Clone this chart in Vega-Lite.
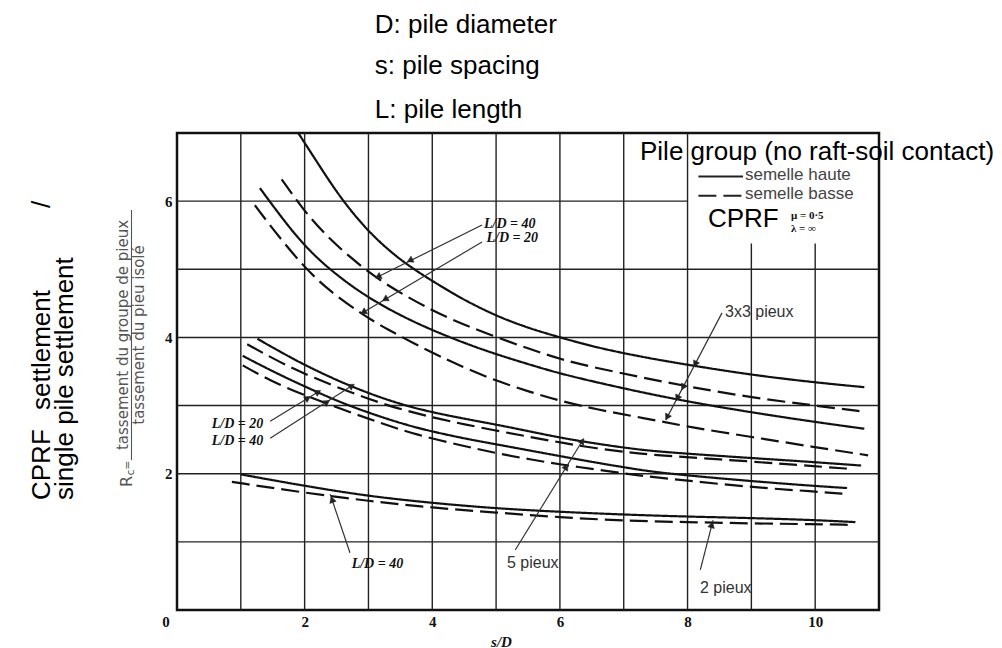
{
  "$schema": "https://vega.github.io/schema/vega-lite/v6.json",
  "width": 702,
  "height": 477,
  "autosize": "none",
  "padding": {"left": 177, "top": 133, "right": 123, "bottom": 38},
  "background": "white",
  "config": {
    "view": {"stroke": "#111", "strokeWidth": 2.5},
    "axis": {"grid": false, "ticks": false, "domain": false, "labelFont": "Liberation Serif", "labelFontWeight": "bold", "labelFontSize": 15, "labelColor": "#111"}
  },
  "datasets": {
    "grid": [
      {"x": 1, "x2": 1, "y": 0, "y2": 7}, {"x": 2, "x2": 2, "y": 0, "y2": 7}, {"x": 3, "x2": 3, "y": 0, "y2": 7},
      {"x": 4, "x2": 4, "y": 0, "y2": 7}, {"x": 5, "x2": 5, "y": 0, "y2": 7}, {"x": 6, "x2": 6, "y": 0, "y2": 7},
      {"x": 7, "x2": 7, "y": 0, "y2": 7}, {"x": 8, "x2": 8, "y": 0, "y2": 7},
      {"x": 9, "x2": 9, "y": 0, "y2": 5.38}, {"x": 10, "x2": 10, "y": 0, "y2": 5.38},
      {"x": 0, "x2": 11, "y": 1, "y2": 1}, {"x": 0, "x2": 11, "y": 2, "y2": 2}, {"x": 0, "x2": 11, "y": 3, "y2": 3},
      {"x": 0, "x2": 11, "y": 4, "y2": 4}, {"x": 0, "x2": 11, "y": 5, "y2": 5}, {"x": 0, "x2": 8, "y": 6, "y2": 6}
    ],
    "curves": [
      {"curve": "3x3 L/D=40 haute", "cap": "semelle haute", "x": 1.9, "y": 7.0},
      {"curve": "3x3 L/D=40 haute", "cap": "semelle haute", "x": 2.19, "y": 6.58},
      {"curve": "3x3 L/D=40 haute", "cap": "semelle haute", "x": 2.55, "y": 6.06},
      {"curve": "3x3 L/D=40 haute", "cap": "semelle haute", "x": 2.97, "y": 5.58},
      {"curve": "3x3 L/D=40 haute", "cap": "semelle haute", "x": 3.34, "y": 5.26},
      {"curve": "3x3 L/D=40 haute", "cap": "semelle haute", "x": 3.62, "y": 5.06},
      {"curve": "3x3 L/D=40 haute", "cap": "semelle haute", "x": 3.91, "y": 4.88},
      {"curve": "3x3 L/D=40 haute", "cap": "semelle haute", "x": 4.23, "y": 4.7},
      {"curve": "3x3 L/D=40 haute", "cap": "semelle haute", "x": 4.48, "y": 4.56},
      {"curve": "3x3 L/D=40 haute", "cap": "semelle haute", "x": 5.01, "y": 4.31},
      {"curve": "3x3 L/D=40 haute", "cap": "semelle haute", "x": 5.53, "y": 4.13},
      {"curve": "3x3 L/D=40 haute", "cap": "semelle haute", "x": 6.0, "y": 4.0},
      {"curve": "3x3 L/D=40 haute", "cap": "semelle haute", "x": 6.58, "y": 3.85},
      {"curve": "3x3 L/D=40 haute", "cap": "semelle haute", "x": 7.3, "y": 3.71},
      {"curve": "3x3 L/D=40 haute", "cap": "semelle haute", "x": 8.05, "y": 3.59},
      {"curve": "3x3 L/D=40 haute", "cap": "semelle haute", "x": 9.0, "y": 3.45},
      {"curve": "3x3 L/D=40 haute", "cap": "semelle haute", "x": 9.99, "y": 3.34},
      {"curve": "3x3 L/D=40 haute", "cap": "semelle haute", "x": 10.77, "y": 3.27},

      {"curve": "3x3 L/D=40 basse", "cap": "semelle basse", "x": 1.64, "y": 6.32},
      {"curve": "3x3 L/D=40 basse", "cap": "semelle basse", "x": 1.98, "y": 5.87},
      {"curve": "3x3 L/D=40 basse", "cap": "semelle basse", "x": 2.35, "y": 5.48},
      {"curve": "3x3 L/D=40 basse", "cap": "semelle basse", "x": 2.71, "y": 5.18},
      {"curve": "3x3 L/D=40 basse", "cap": "semelle basse", "x": 3.18, "y": 4.82},
      {"curve": "3x3 L/D=40 basse", "cap": "semelle basse", "x": 4.02, "y": 4.38},
      {"curve": "3x3 L/D=40 basse", "cap": "semelle basse", "x": 4.49, "y": 4.19},
      {"curve": "3x3 L/D=40 basse", "cap": "semelle basse", "x": 5.01, "y": 4.0},
      {"curve": "3x3 L/D=40 basse", "cap": "semelle basse", "x": 5.53, "y": 3.83},
      {"curve": "3x3 L/D=40 basse", "cap": "semelle basse", "x": 6.0, "y": 3.68},
      {"curve": "3x3 L/D=40 basse", "cap": "semelle basse", "x": 6.58, "y": 3.55},
      {"curve": "3x3 L/D=40 basse", "cap": "semelle basse", "x": 7.3, "y": 3.41},
      {"curve": "3x3 L/D=40 basse", "cap": "semelle basse", "x": 8.05, "y": 3.27},
      {"curve": "3x3 L/D=40 basse", "cap": "semelle basse", "x": 9.0, "y": 3.12},
      {"curve": "3x3 L/D=40 basse", "cap": "semelle basse", "x": 9.99, "y": 3.0},
      {"curve": "3x3 L/D=40 basse", "cap": "semelle basse", "x": 10.77, "y": 2.91},

      {"curve": "3x3 L/D=20 haute", "cap": "semelle haute", "x": 1.3, "y": 6.19},
      {"curve": "3x3 L/D=20 haute", "cap": "semelle haute", "x": 1.67, "y": 5.72},
      {"curve": "3x3 L/D=20 haute", "cap": "semelle haute", "x": 2.01, "y": 5.33},
      {"curve": "3x3 L/D=20 haute", "cap": "semelle haute", "x": 2.4, "y": 4.99},
      {"curve": "3x3 L/D=20 haute", "cap": "semelle haute", "x": 2.87, "y": 4.66},
      {"curve": "3x3 L/D=20 haute", "cap": "semelle haute", "x": 3.34, "y": 4.4},
      {"curve": "3x3 L/D=20 haute", "cap": "semelle haute", "x": 3.86, "y": 4.16},
      {"curve": "3x3 L/D=20 haute", "cap": "semelle haute", "x": 4.49, "y": 3.92},
      {"curve": "3x3 L/D=20 haute", "cap": "semelle haute", "x": 5.01, "y": 3.75},
      {"curve": "3x3 L/D=20 haute", "cap": "semelle haute", "x": 5.53, "y": 3.6},
      {"curve": "3x3 L/D=20 haute", "cap": "semelle haute", "x": 6.0, "y": 3.47},
      {"curve": "3x3 L/D=20 haute", "cap": "semelle haute", "x": 6.58, "y": 3.34},
      {"curve": "3x3 L/D=20 haute", "cap": "semelle haute", "x": 7.3, "y": 3.19},
      {"curve": "3x3 L/D=20 haute", "cap": "semelle haute", "x": 8.05, "y": 3.05},
      {"curve": "3x3 L/D=20 haute", "cap": "semelle haute", "x": 9.0, "y": 2.9},
      {"curve": "3x3 L/D=20 haute", "cap": "semelle haute", "x": 9.99, "y": 2.76},
      {"curve": "3x3 L/D=20 haute", "cap": "semelle haute", "x": 10.77, "y": 2.66},

      {"curve": "3x3 L/D=20 basse", "cap": "semelle basse", "x": 1.22, "y": 5.94},
      {"curve": "3x3 L/D=20 basse", "cap": "semelle basse", "x": 1.51, "y": 5.58},
      {"curve": "3x3 L/D=20 basse", "cap": "semelle basse", "x": 1.98, "y": 5.04},
      {"curve": "3x3 L/D=20 basse", "cap": "semelle basse", "x": 2.4, "y": 4.67},
      {"curve": "3x3 L/D=20 basse", "cap": "semelle basse", "x": 2.92, "y": 4.33},
      {"curve": "3x3 L/D=20 basse", "cap": "semelle basse", "x": 3.23, "y": 4.15},
      {"curve": "3x3 L/D=20 basse", "cap": "semelle basse", "x": 3.96, "y": 3.79},
      {"curve": "3x3 L/D=20 basse", "cap": "semelle basse", "x": 4.49, "y": 3.56},
      {"curve": "3x3 L/D=20 basse", "cap": "semelle basse", "x": 5.01, "y": 3.36},
      {"curve": "3x3 L/D=20 basse", "cap": "semelle basse", "x": 5.53, "y": 3.2},
      {"curve": "3x3 L/D=20 basse", "cap": "semelle basse", "x": 6.0, "y": 3.07},
      {"curve": "3x3 L/D=20 basse", "cap": "semelle basse", "x": 6.58, "y": 2.94},
      {"curve": "3x3 L/D=20 basse", "cap": "semelle basse", "x": 7.3, "y": 2.82},
      {"curve": "3x3 L/D=20 basse", "cap": "semelle basse", "x": 8.05, "y": 2.68},
      {"curve": "3x3 L/D=20 basse", "cap": "semelle basse", "x": 9.0, "y": 2.54},
      {"curve": "3x3 L/D=20 basse", "cap": "semelle basse", "x": 9.99, "y": 2.39},
      {"curve": "3x3 L/D=20 basse", "cap": "semelle basse", "x": 10.83, "y": 2.27},

      {"curve": "5p L/D=40 haute", "cap": "semelle haute", "x": 1.26, "y": 3.98},
      {"curve": "5p L/D=40 haute", "cap": "semelle haute", "x": 1.86, "y": 3.66},
      {"curve": "5p L/D=40 haute", "cap": "semelle haute", "x": 2.39, "y": 3.42},
      {"curve": "5p L/D=40 haute", "cap": "semelle haute", "x": 2.81, "y": 3.25},
      {"curve": "5p L/D=40 haute", "cap": "semelle haute", "x": 3.33, "y": 3.07},
      {"curve": "5p L/D=40 haute", "cap": "semelle haute", "x": 3.85, "y": 2.93},
      {"curve": "5p L/D=40 haute", "cap": "semelle haute", "x": 4.48, "y": 2.81},
      {"curve": "5p L/D=40 haute", "cap": "semelle haute", "x": 5.01, "y": 2.72},
      {"curve": "5p L/D=40 haute", "cap": "semelle haute", "x": 5.53, "y": 2.62},
      {"curve": "5p L/D=40 haute", "cap": "semelle haute", "x": 6.05, "y": 2.52},
      {"curve": "5p L/D=40 haute", "cap": "semelle haute", "x": 6.58, "y": 2.44},
      {"curve": "5p L/D=40 haute", "cap": "semelle haute", "x": 7.1, "y": 2.37},
      {"curve": "5p L/D=40 haute", "cap": "semelle haute", "x": 7.57, "y": 2.32},
      {"curve": "5p L/D=40 haute", "cap": "semelle haute", "x": 9.0, "y": 2.23},
      {"curve": "5p L/D=40 haute", "cap": "semelle haute", "x": 9.99, "y": 2.17},
      {"curve": "5p L/D=40 haute", "cap": "semelle haute", "x": 10.72, "y": 2.12},

      {"curve": "5p L/D=40 basse", "cap": "semelle basse", "x": 1.1, "y": 3.9},
      {"curve": "5p L/D=40 basse", "cap": "semelle basse", "x": 1.6, "y": 3.64},
      {"curve": "5p L/D=40 basse", "cap": "semelle basse", "x": 2.13, "y": 3.41},
      {"curve": "5p L/D=40 basse", "cap": "semelle basse", "x": 2.81, "y": 3.16},
      {"curve": "5p L/D=40 basse", "cap": "semelle basse", "x": 3.43, "y": 2.96},
      {"curve": "5p L/D=40 basse", "cap": "semelle basse", "x": 4.12, "y": 2.8},
      {"curve": "5p L/D=40 basse", "cap": "semelle basse", "x": 4.48, "y": 2.73},
      {"curve": "5p L/D=40 basse", "cap": "semelle basse", "x": 5.01, "y": 2.63},
      {"curve": "5p L/D=40 basse", "cap": "semelle basse", "x": 5.53, "y": 2.54},
      {"curve": "5p L/D=40 basse", "cap": "semelle basse", "x": 6.05, "y": 2.45},
      {"curve": "5p L/D=40 basse", "cap": "semelle basse", "x": 6.58, "y": 2.37},
      {"curve": "5p L/D=40 basse", "cap": "semelle basse", "x": 7.1, "y": 2.31},
      {"curve": "5p L/D=40 basse", "cap": "semelle basse", "x": 7.52, "y": 2.27},
      {"curve": "5p L/D=40 basse", "cap": "semelle basse", "x": 9.0, "y": 2.18},
      {"curve": "5p L/D=40 basse", "cap": "semelle basse", "x": 9.99, "y": 2.11},
      {"curve": "5p L/D=40 basse", "cap": "semelle basse", "x": 10.57, "y": 2.07},

      {"curve": "5p L/D=20 haute", "cap": "semelle haute", "x": 1.03, "y": 3.73},
      {"curve": "5p L/D=20 haute", "cap": "semelle haute", "x": 1.5, "y": 3.5},
      {"curve": "5p L/D=20 haute", "cap": "semelle haute", "x": 2.07, "y": 3.25},
      {"curve": "5p L/D=20 haute", "cap": "semelle haute", "x": 2.6, "y": 3.03},
      {"curve": "5p L/D=20 haute", "cap": "semelle haute", "x": 3.17, "y": 2.84},
      {"curve": "5p L/D=20 haute", "cap": "semelle haute", "x": 3.75, "y": 2.67},
      {"curve": "5p L/D=20 haute", "cap": "semelle haute", "x": 4.48, "y": 2.52},
      {"curve": "5p L/D=20 haute", "cap": "semelle haute", "x": 5.01, "y": 2.43},
      {"curve": "5p L/D=20 haute", "cap": "semelle haute", "x": 5.53, "y": 2.34},
      {"curve": "5p L/D=20 haute", "cap": "semelle haute", "x": 6.05, "y": 2.25},
      {"curve": "5p L/D=20 haute", "cap": "semelle haute", "x": 6.58, "y": 2.16},
      {"curve": "5p L/D=20 haute", "cap": "semelle haute", "x": 7.1, "y": 2.08},
      {"curve": "5p L/D=20 haute", "cap": "semelle haute", "x": 7.57, "y": 2.01},
      {"curve": "5p L/D=20 haute", "cap": "semelle haute", "x": 9.0, "y": 1.89},
      {"curve": "5p L/D=20 haute", "cap": "semelle haute", "x": 9.99, "y": 1.82},
      {"curve": "5p L/D=20 haute", "cap": "semelle haute", "x": 10.5, "y": 1.79},

      {"curve": "5p L/D=20 basse", "cap": "semelle basse", "x": 1.03, "y": 3.59},
      {"curve": "5p L/D=20 basse", "cap": "semelle basse", "x": 1.45, "y": 3.37},
      {"curve": "5p L/D=20 basse", "cap": "semelle basse", "x": 1.97, "y": 3.16},
      {"curve": "5p L/D=20 basse", "cap": "semelle basse", "x": 2.6, "y": 2.94},
      {"curve": "5p L/D=20 basse", "cap": "semelle basse", "x": 3.17, "y": 2.75},
      {"curve": "5p L/D=20 basse", "cap": "semelle basse", "x": 3.75, "y": 2.57},
      {"curve": "5p L/D=20 basse", "cap": "semelle basse", "x": 4.48, "y": 2.41},
      {"curve": "5p L/D=20 basse", "cap": "semelle basse", "x": 5.01, "y": 2.3},
      {"curve": "5p L/D=20 basse", "cap": "semelle basse", "x": 5.53, "y": 2.21},
      {"curve": "5p L/D=20 basse", "cap": "semelle basse", "x": 6.05, "y": 2.13},
      {"curve": "5p L/D=20 basse", "cap": "semelle basse", "x": 6.58, "y": 2.06},
      {"curve": "5p L/D=20 basse", "cap": "semelle basse", "x": 7.1, "y": 1.99},
      {"curve": "5p L/D=20 basse", "cap": "semelle basse", "x": 7.57, "y": 1.94},
      {"curve": "5p L/D=20 basse", "cap": "semelle basse", "x": 9.0, "y": 1.8},
      {"curve": "5p L/D=20 basse", "cap": "semelle basse", "x": 9.99, "y": 1.74},
      {"curve": "5p L/D=20 basse", "cap": "semelle basse", "x": 10.5, "y": 1.7},

      {"curve": "2p L/D=40 haute", "cap": "semelle haute", "x": 1.0, "y": 1.99},
      {"curve": "2p L/D=40 haute", "cap": "semelle haute", "x": 2.0, "y": 1.82},
      {"curve": "2p L/D=40 haute", "cap": "semelle haute", "x": 3.0, "y": 1.67},
      {"curve": "2p L/D=40 haute", "cap": "semelle haute", "x": 4.0, "y": 1.57},
      {"curve": "2p L/D=40 haute", "cap": "semelle haute", "x": 5.0, "y": 1.49},
      {"curve": "2p L/D=40 haute", "cap": "semelle haute", "x": 6.0, "y": 1.44},
      {"curve": "2p L/D=40 haute", "cap": "semelle haute", "x": 7.0, "y": 1.4},
      {"curve": "2p L/D=40 haute", "cap": "semelle haute", "x": 8.0, "y": 1.37},
      {"curve": "2p L/D=40 haute", "cap": "semelle haute", "x": 9.0, "y": 1.35},
      {"curve": "2p L/D=40 haute", "cap": "semelle haute", "x": 10.0, "y": 1.32},
      {"curve": "2p L/D=40 haute", "cap": "semelle haute", "x": 10.63, "y": 1.29},

      {"curve": "2p L/D=40 basse", "cap": "semelle basse", "x": 0.86, "y": 1.88},
      {"curve": "2p L/D=40 basse", "cap": "semelle basse", "x": 2.0, "y": 1.72},
      {"curve": "2p L/D=40 basse", "cap": "semelle basse", "x": 3.0, "y": 1.6},
      {"curve": "2p L/D=40 basse", "cap": "semelle basse", "x": 4.0, "y": 1.5},
      {"curve": "2p L/D=40 basse", "cap": "semelle basse", "x": 5.0, "y": 1.43},
      {"curve": "2p L/D=40 basse", "cap": "semelle basse", "x": 6.0, "y": 1.36},
      {"curve": "2p L/D=40 basse", "cap": "semelle basse", "x": 7.0, "y": 1.31},
      {"curve": "2p L/D=40 basse", "cap": "semelle basse", "x": 8.0, "y": 1.29},
      {"curve": "2p L/D=40 basse", "cap": "semelle basse", "x": 9.0, "y": 1.27},
      {"curve": "2p L/D=40 basse", "cap": "semelle basse", "x": 10.0, "y": 1.26},
      {"curve": "2p L/D=40 basse", "cap": "semelle basse", "x": 10.53, "y": 1.25}
    ],
    "keys": [
      {"cap": "semelle haute", "x": 8.17, "x2": 8.87, "y": 6.36},
      {"cap": "semelle basse", "x": 8.17, "x2": 8.87, "y": 6.08}
    ],
    "leaders": [
      {"x": 4.78, "y": 5.65, "x2": 3.15, "y2": 4.89},
      {"x": 4.78, "y": 5.4, "x2": 2.92, "y2": 4.37},
      {"x": 1.46, "y": 2.77, "x2": 2.21, "y2": 3.2},
      {"x": 1.46, "y": 2.52, "x2": 2.74, "y2": 3.29},
      {"x": 2.71, "y": 0.84, "x2": 2.4, "y2": 1.7},
      {"x": 5.3, "y": 0.88, "x2": 6.35, "y2": 2.48},
      {"x": 8.54, "y": 4.36, "x2": 7.66, "y2": 2.79},
      {"x": 8.2, "y": 0.59, "x2": 8.4, "y2": 1.32}
    ],
    "heads": [
      {"x": 3.65, "y": 5.13, "dir": 243.4}, {"x": 3.15, "y": 4.89, "dir": 243.4},
      {"x": 3.26, "y": 4.56, "dir": 239.5}, {"x": 2.92, "y": 4.37, "dir": 239.5},
      {"x": 2.05, "y": 3.11, "dir": 58.9}, {"x": 2.21, "y": 3.2, "dir": 58.9},
      {"x": 2.35, "y": 3.05, "dir": 57.6}, {"x": 2.74, "y": 3.29, "dir": 57.6},
      {"x": 2.43, "y": 1.62, "dir": 341.3},
      {"x": 6.1, "y": 2.1, "dir": 31.6}, {"x": 6.35, "y": 2.48, "dir": 31.6},
      {"x": 8.12, "y": 3.61, "dir": 207.6}, {"x": 7.93, "y": 3.27, "dir": 207.6},
      {"x": 7.84, "y": 3.11, "dir": 207.6}, {"x": 7.68, "y": 2.83, "dir": 207.6},
      {"x": 8.38, "y": 1.25, "dir": 14.6}
    ],
    "fractionBar": [
      {"x": -0.713, "y": 2.2, "x2": -0.713, "y2": 5.87}
    ],
    "notesBig": [
      {"x": 3.1, "y": 8.468, "text": "D: pile diameter"},
      {"x": 3.1, "y": 7.866, "text": "s: pile spacing"},
      {"x": 3.1, "y": 7.216, "text": "L: pile length"},
      {"x": 7.255, "y": 6.6, "text": "Pile group (no raft-soil contact)"},
      {"x": 8.32, "y": 5.625, "text": "CPRF"}
    ],
    "keyText": [
      {"x": 8.9, "y": 6.31, "text": "semelle haute"},
      {"x": 8.9, "y": 6.027, "text": "semelle basse"}
    ],
    "groupText": [
      {"x": 5.17, "y": 0.616, "text": "5 pieux"},
      {"x": 8.195, "y": 0.249, "text": "2 pieux"},
      {"x": 8.587, "y": 4.304, "text": "3x3 pieux"}
    ],
    "ratioText": [
      {"x": 4.81, "y": 5.6, "text": "L/D = 40"},
      {"x": 4.85, "y": 5.396, "text": "L/D = 20"},
      {"x": 0.544, "y": 2.667, "text": "L/D = 20"},
      {"x": 0.544, "y": 2.42, "text": "L/D = 40"},
      {"x": 2.737, "y": 0.612, "text": "L/D = 40"}
    ],
    "paramText": [
      {"x": 9.62, "y": 5.745, "text": "μ = 0·5"},
      {"x": 9.62, "y": 5.54, "text": "λ = ∞"}
    ],
    "sideTitle": [
      {"x": -1.99, "y": 1.614, "text": "CPRF"},
      {"x": -1.99, "y": 2.935, "text": "settlement"},
      {"x": -1.99, "y": 5.9, "text": "/"},
      {"x": -1.637, "y": 1.614, "text": "single pile settlement"}
    ],
    "fraction": [
      {"x": -0.768, "y": 4.036, "text": "tassement du groupe de pieux"},
      {"x": -0.517, "y": 4.036, "text": "tassement du pieu isolé"}
    ],
    "rSymbol": [
      {"x": -0.705, "y": 1.805, "text": "R"}
    ],
    "rSuffix": [
      {"x": -0.674, "y": 1.975, "text": "c"},
      {"x": -0.713, "y": 2.06, "text": "="}
    ],
    "origin": [
      {"x": 0, "y": 0, "text": "0"}
    ]
  },
  "encoding": {
    "x": {
      "field": "x", "type": "quantitative",
      "scale": {"domain": [0, 11], "nice": false, "zero": false},
      "axis": {"values": [2, 4, 6, 8, 10], "labelPadding": 4, "title": "s/D", "titleFont": "Liberation Serif", "titleFontStyle": "italic", "titleFontWeight": "bold", "titleFontSize": 15, "titleColor": "#111", "titleX": 324, "titleY": 31, "titleBaseline": "middle", "titleAlign": "center"}
    },
    "y": {
      "field": "y", "type": "quantitative",
      "scale": {"domain": [0, 7], "nice": false, "zero": false},
      "axis": {"values": [2, 4, 6], "labelPadding": 5, "title": null}
    }
  },
  "layer": [
    {
      "data": {"name": "grid"},
      "mark": {"type": "rule", "color": "#222", "strokeWidth": 1.4},
      "encoding": {"x2": {"field": "x2"}, "y2": {"field": "y2"}}
    },
    {
      "data": {"name": "curves"},
      "mark": {"type": "line", "color": "#111", "strokeWidth": 2.2, "interpolate": "basis"},
      "encoding": {
        "detail": {"field": "curve", "type": "nominal"},
        "strokeDash": {"field": "cap", "type": "nominal", "scale": {"domain": ["semelle haute", "semelle basse"], "range": [[1, 0], [18, 7]]}, "legend": null}
      }
    },
    {
      "data": {"name": "keys"},
      "mark": {"type": "rule", "color": "#222", "strokeWidth": 2},
      "encoding": {
        "x2": {"field": "x2"},
        "strokeDash": {"field": "cap", "type": "nominal", "scale": {"domain": ["semelle haute", "semelle basse"], "range": [[1, 0], [20, 7]]}, "legend": null}
      }
    },
    {
      "data": {"name": "leaders"},
      "mark": {"type": "rule", "color": "#333", "strokeWidth": 1.2},
      "encoding": {"x2": {"field": "x2"}, "y2": {"field": "y2"}}
    },
    {
      "data": {"name": "fractionBar"},
      "mark": {"type": "rule", "color": "#555", "strokeWidth": 1.1},
      "encoding": {"x2": {"field": "x2"}, "y2": {"field": "y2"}}
    },
    {
      "data": {"name": "heads"},
      "mark": {"type": "point", "shape": "triangle-up", "filled": true, "size": 45, "fill": "#222", "stroke": "#222", "strokeWidth": 0.5, "fillOpacity": 1, "strokeOpacity": 1},
      "encoding": {"angle": {"field": "dir", "type": "quantitative", "scale": null}}
    },
    {
      "data": {"name": "notesBig"},
      "mark": {"type": "text", "font": "Liberation Sans", "fontSize": 26, "align": "left", "baseline": "alphabetic", "color": "#000"},
      "encoding": {"text": {"field": "text"}}
    },
    {
      "data": {"name": "keyText"},
      "mark": {"type": "text", "font": "Liberation Sans", "fontSize": 17, "align": "left", "baseline": "alphabetic", "color": "#444"},
      "encoding": {"text": {"field": "text"}}
    },
    {
      "data": {"name": "groupText"},
      "mark": {"type": "text", "font": "Liberation Sans", "fontSize": 16, "align": "left", "baseline": "alphabetic", "color": "#333"},
      "encoding": {"text": {"field": "text"}}
    },
    {
      "data": {"name": "ratioText"},
      "mark": {"type": "text", "font": "Liberation Serif", "fontSize": 14, "fontStyle": "italic", "fontWeight": "bold", "align": "left", "baseline": "alphabetic", "color": "#111"},
      "encoding": {"text": {"field": "text"}}
    },
    {
      "data": {"name": "paramText"},
      "mark": {"type": "text", "font": "Liberation Serif", "fontSize": 11, "fontWeight": "bold", "align": "left", "baseline": "alphabetic", "color": "#111"},
      "encoding": {"text": {"field": "text"}}
    },
    {
      "data": {"name": "sideTitle"},
      "mark": {"type": "text", "font": "Liberation Sans", "fontSize": 26, "angle": 270, "align": "left", "baseline": "alphabetic", "color": "#000"},
      "encoding": {"text": {"field": "text"}}
    },
    {
      "data": {"name": "fraction"},
      "mark": {"type": "text", "font": "DejaVu Sans", "fontSize": 15, "angle": 270, "align": "center", "baseline": "alphabetic", "color": "#555"},
      "encoding": {"text": {"field": "text"}}
    },
    {
      "data": {"name": "rSymbol"},
      "mark": {"type": "text", "font": "DejaVu Sans", "fontSize": 16, "angle": 270, "align": "left", "baseline": "alphabetic", "color": "#555"},
      "encoding": {"text": {"field": "text"}}
    },
    {
      "data": {"name": "rSuffix"},
      "mark": {"type": "text", "font": "DejaVu Sans", "fontSize": 11, "angle": 270, "align": "left", "baseline": "alphabetic", "color": "#555"},
      "encoding": {"text": {"field": "text"}}
    },
    {
      "data": {"name": "origin"},
      "mark": {"type": "text", "font": "Liberation Serif", "fontSize": 15, "fontWeight": "bold", "align": "center", "baseline": "middle", "dx": -11, "dy": 12, "color": "#111"},
      "encoding": {"text": {"field": "text"}}
    }
  ]
}
